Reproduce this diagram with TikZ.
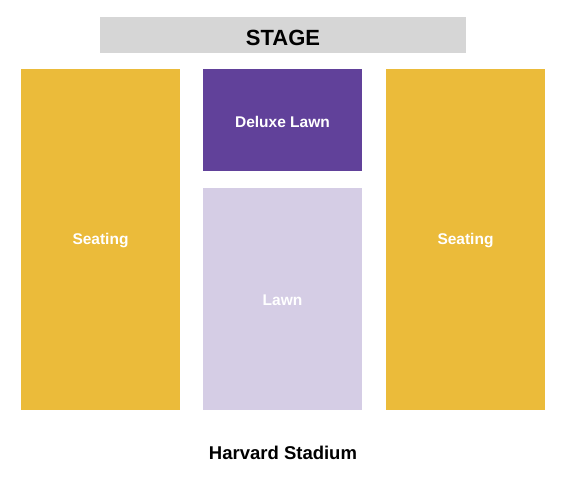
\documentclass[tikz,border=0pt]{standalone}
\usepackage{fontspec}
\setmainfont{Liberation Sans}
\definecolor{seatgold}{HTML}{EBBB3A}
\definecolor{deluxe}{HTML}{61419A}
\definecolor{lawnc}{HTML}{D5CDE5}
\definecolor{stagegray}{HTML}{D6D6D6}
\begin{document}
\begin{tikzpicture}[x=1pt,y=-1pt,
  lbl/.style={inner sep=0pt,font=\bfseries\fontsize{15.5}{18}\selectfont,text=white}]
\useasboundingbox (0,0) rectangle (566,485);
\fill[white] (0,0) rectangle (566,485);
\fill[stagegray] (100,17) rectangle (466,52.5);
\node[inner sep=0pt,font=\bfseries\fontsize{22}{26}\selectfont] (stage) at (283,37.5) {STAGE};
\fill[seatgold] (21,69) rectangle (180,410);
\node[lbl] (seatL) at (100.5,241) {Seating};
\fill[seatgold] (386,69) rectangle (545,410);
\node[lbl] (seatR) at (465.5,241) {Seating};
\fill[deluxe] (203,69) rectangle (362,171);
\node[lbl] (dlx) at (282.5,121.5) {Deluxe Lawn};
\fill[lawnc] (203,188) rectangle (362,410);
\node[lbl] (lawn) at (282.5,300) {Lawn};
\node[inner sep=0pt,font=\bfseries\fontsize{18.5}{22}\selectfont] (venue) at (283,453) {Harvard Stadium};
\end{tikzpicture}
\end{document}
